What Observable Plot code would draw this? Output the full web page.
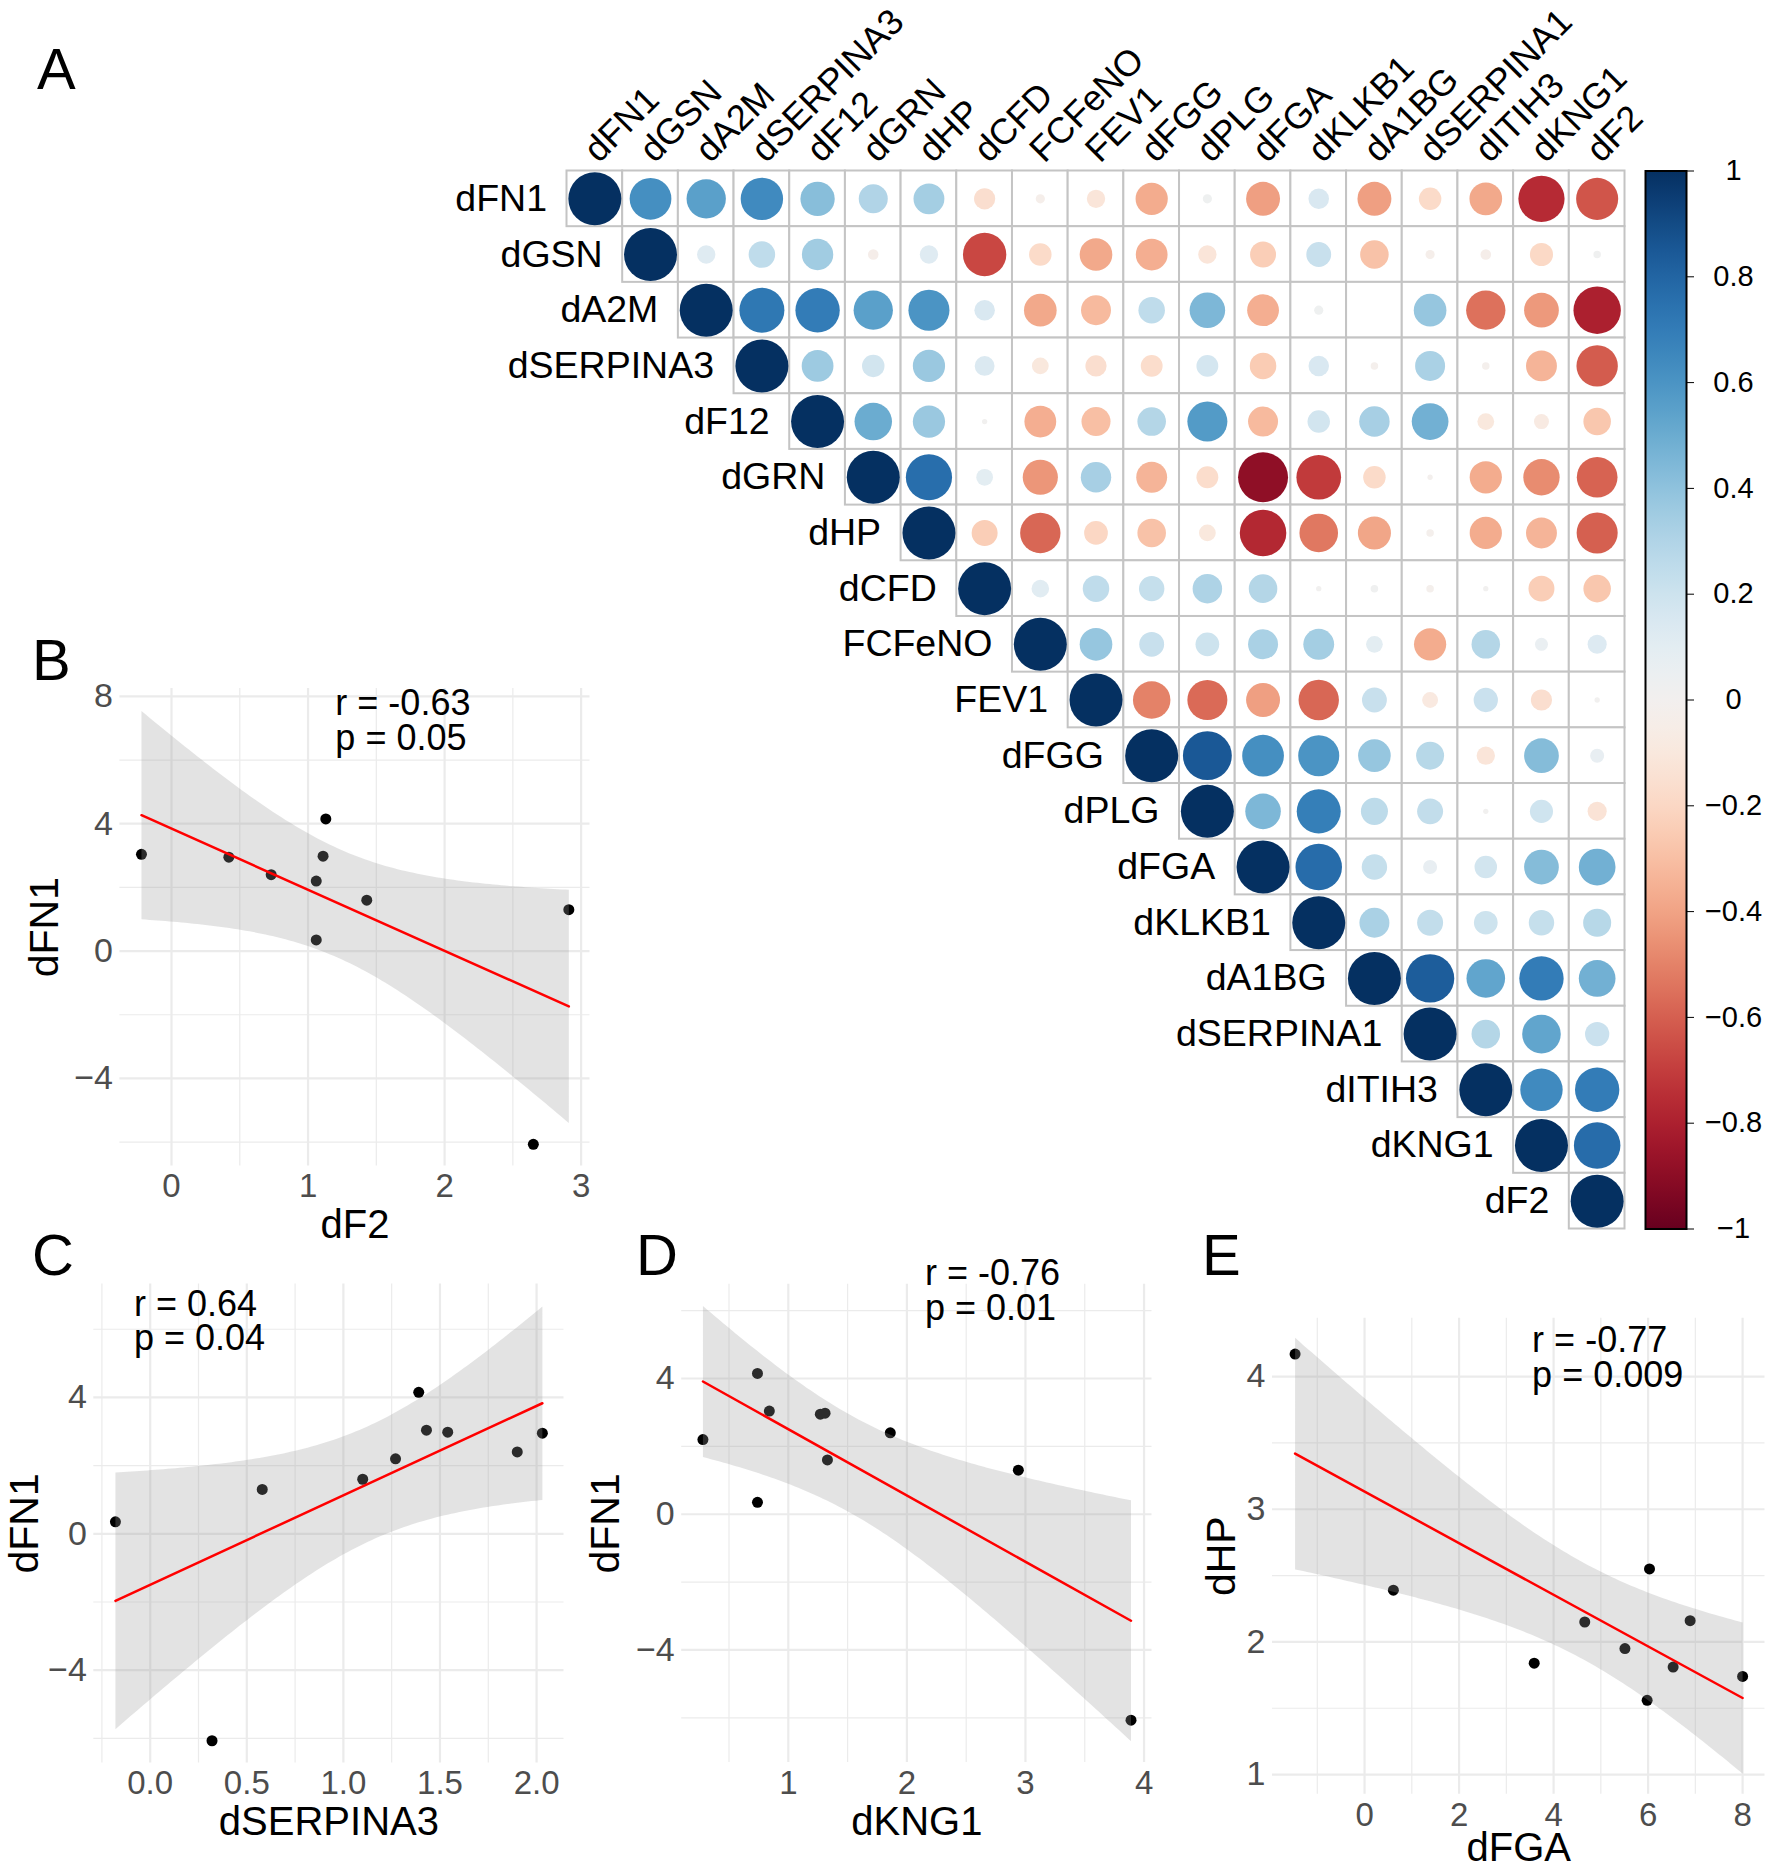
<!DOCTYPE html>
<html>
<head>
<meta charset="utf-8">
<script src="https://cdn.jsdelivr.net/npm/d3@7"></script>
<script src="https://cdn.jsdelivr.net/npm/@observablehq/plot@0.6"></script>
<style>
  body { margin: 0; background: #fff; }
  #page { position: relative; width: 1770px; height: 1870px; overflow: hidden; background: #fff;
          font-family: "Liberation Sans", Arial, Helvetica, sans-serif; }
  .letter { position: absolute; font-size: 58px; line-height: 1; color: #000; }
</style>
</head>
<body>
<div id="page"></div>
<script>
// ---------------- DATA ----------------
const vars = ["dFN1","dGSN","dA2M","dSERPINA3","dF12","dGRN","dHP","dCFD","FCFeNO","FEV1",
              "dFGG","dPLG","dFGA","dKLKB1","dA1BG","dSERPINA1","dITIH3","dKNG1","dF2"];

// upper-triangle correlations, each row lists the columns to the right of the diagonal
const r_dFN1      = [0.62, 0.55, 0.64, 0.42, 0.30, 0.34, -0.16, -0.03, -0.12, -0.37, 0.03, -0.41, 0.15, -0.41, -0.18, -0.38, -0.76, -0.63];
const r_dGSN      = [0.12, 0.25, 0.35, -0.04, 0.12, -0.67, -0.18, -0.38, -0.36, -0.12, -0.24, 0.22, -0.29, -0.03, -0.04, -0.19, 0.02];
const r_dA2M      = [0.72, 0.70, 0.55, 0.60, 0.15, -0.38, -0.32, 0.25, 0.45, -0.36, 0.03, 0.00, 0.38, -0.55, -0.43, -0.80];
const r_dSERPINA3 = [0.36, 0.18, 0.37, 0.14, -0.10, -0.16, -0.17, 0.17, -0.25, 0.15, -0.02, 0.32, -0.02, -0.34, -0.61];
const r_dF12      = [0.50, 0.37, 0.01, -0.36, -0.30, 0.29, 0.57, -0.32, 0.18, 0.33, 0.48, -0.10, -0.08, -0.27];
const r_dGRN      = [0.76, 0.10, -0.44, 0.33, -0.34, -0.17, -0.89, -0.71, -0.18, -0.01, -0.37, -0.47, -0.59];
const r_dHP       = [-0.24, -0.58, -0.20, -0.29, -0.10, -0.77, -0.53, -0.39, -0.02, -0.37, -0.34, -0.60];
const r_dCFD      = [0.11, 0.25, 0.23, 0.31, 0.29, 0.01, 0.02, -0.02, 0.01, -0.24, -0.27];
const r_FCFeNO    = [0.38, 0.22, 0.20, 0.32, 0.34, 0.10, -0.37, 0.29, 0.06, 0.13];
const r_FEV1      = [-0.50, -0.57, -0.41, -0.58, 0.22, -0.09, 0.21, -0.16, 0.01];
const r_dFGG      = [0.85, 0.62, 0.60, 0.38, 0.28, -0.12, 0.43, 0.07];
const r_dPLG      = [0.45, 0.69, 0.26, 0.24, 0.01, 0.19, -0.13];
const r_dFGA      = [0.77, 0.23, 0.07, 0.18, 0.43, 0.48];
const r_dKLKB1    = [0.32, 0.24, 0.20, 0.23, 0.28];
const r_dA1BG     = [0.83, 0.53, 0.70, 0.48];
const r_dSERPINA1 = [0.29, 0.53, 0.21];
const r_dITIH3    = [0.64, 0.70];
const r_dKNG1     = [0.77];

const colorbarTicks = [-1, -0.8, -0.6, -0.4, -0.2, 0, 0.2, 0.4, 0.6, 0.8, 1];

// scatter data (one entry per subject)
const dFN1      = [3.04, 2.95, 2.98, 4.15, 2.20, 0.35, 1.60, 1.30, 2.40, -6.07];
const dF2       = [-0.22, 0.42, 1.11, 1.13, 1.06, 1.06, 1.43, 2.91, 0.73, 2.65];
const dSERPINA3 = [1.43, 2.03, 1.54, 1.39, 1.27, -0.18, 1.10, 0.58, 1.90, 0.32];
const dKNG1     = [0.84, 1.27, 1.31, 0.74, 0.28, 0.74, 1.33, 2.94, 1.86, 3.89];
const dFGA      = [-1.47, 0.61, 3.59, 4.66, 5.51, 6.03, 5.98, 6.53, 6.89, 8.00];
const dHP       = [4.17, 2.39, 1.84, 2.15, 1.95, 2.55, 1.56, 1.81, 2.16, 1.74];

const statsB = "r = -0.63\np = 0.05";
const statsC = "r = 0.64\np = 0.04";
const statsD = "r = -0.76\np = 0.01";
const statsE = "r = -0.77\np = 0.009";

const ticksB = {xMajor: [0, 1, 2, 3], xMinor: [0.5, 1.5, 2.5], yMajor: [-4, 0, 4, 8], yMinor: [-6, -2, 2, 6]};
const ticksC = {xMajor: [0, 0.5, 1, 1.5, 2], xMinor: [-0.25, 0.25, 0.75, 1.25, 1.75], yMajor: [-4, 0, 4], yMinor: [-6, -2, 2, 6]};
const ticksD = {xMajor: [1, 2, 3, 4], xMinor: [0.5, 1.5, 2.5, 3.5], yMajor: [-4, 0, 4], yMinor: [-6, -2, 2, 6]};
const ticksE = {xMajor: [0, 2, 4, 6, 8], xMinor: [-1, 1, 3, 5, 7], yMajor: [1, 2, 3, 4], yMinor: [1.5, 2.5, 3.5]};

// ---------------- RENDER ----------------
const FONT = "'Liberation Sans', Arial, Helvetica, sans-serif";
const page = document.getElementById("page");
function place(el, left, top) {
  el.style.position = "absolute";
  el.style.left = left + "px";
  el.style.top = top + "px";
  page.appendChild(el);
}
function letter(t, left, top) {
  const d = document.createElement("div");
  d.className = "letter";
  d.textContent = t;
  d.style.left = left + "px";
  d.style.top = top + "px";
  page.appendChild(d);
}

// ---- Panel A: correlation matrix ----
const corrUpper = [r_dFN1, r_dGSN, r_dA2M, r_dSERPINA3, r_dF12, r_dGRN, r_dHP, r_dCFD, r_FCFeNO,
                   r_FEV1, r_dFGG, r_dPLG, r_dFGA, r_dKLKB1, r_dA1BG, r_dSERPINA1, r_dITIH3, r_dKNG1];
const cells = [];
vars.forEach((v, i) => {
  cells.push({row: v, col: v, r: 1});
  (corrUpper[i] || []).forEach((r, k) => cells.push({row: v, col: vars[i + 1 + k], r}));
});

const mA = {x0: 566.5, y0: 170.5, x1: 1624.5, y1: 1228.5};
const boxA = {x0: 380, y0: 0, x1: 1640, y1: 1240};
const CELL = (mA.x1 - mA.x0) / vars.length;

const matrix = Plot.plot({
  width: boxA.x1 - boxA.x0, height: boxA.y1 - boxA.y0,
  marginLeft: mA.x0 - boxA.x0, marginRight: boxA.x1 - mA.x1,
  marginTop: mA.y0 - boxA.y0, marginBottom: boxA.y1 - mA.y1,
  style: {background: "transparent", fontFamily: FONT, overflow: "visible"},
  x: {type: "band", domain: vars, padding: 0, round: false, axis: null},
  y: {type: "band", domain: vars, padding: 0, round: false, axis: null},
  r: {type: "sqrt", domain: [0, 1], range: [0, 26.5]},
  color: {type: "linear", domain: [-1, 1], scheme: "rdbu"},
  marks: [
    Plot.cell(cells, {x: "col", y: "row", fill: "white", stroke: "#c4c4c4", strokeWidth: 2, inset: 0}),
    Plot.dot(cells, {x: "col", y: "row", r: d => Math.abs(d.r), fill: "r"}),
    Plot.text(vars, {x: d => d, y: d => d, text: d => d, textAnchor: "end",
                     dx: -(CELL / 2 + 20), fontSize: 37.5, fill: "black"}),
    Plot.text(vars, {x: d => d, frameAnchor: "top", text: d => d, rotate: -45, textAnchor: "start",
                     lineAnchor: "bottom", dx: 4, dy: -7, fontSize: 36, fill: "black"})
  ]
});
place(matrix, boxA.x0, boxA.y0);

// ---- colour bar ----
const boxCB = {x0: 1636, y0: 150, x1: 1770, y1: 1250};
const barA = {x0: 1645, y0: mA.y0, x1: 1686, y1: mA.y1};
const colorbar = Plot.plot({
  width: boxCB.x1 - boxCB.x0, height: boxCB.y1 - boxCB.y0,
  marginLeft: barA.x0 - boxCB.x0, marginRight: boxCB.x1 - barA.x1,
  marginTop: barA.y0 - boxCB.y0, marginBottom: boxCB.y1 - barA.y1,
  style: {background: "transparent", fontFamily: FONT, overflow: "visible"},
  x: {domain: [0, 1], axis: null},
  y: {domain: [-1, 1], axis: null},
  marks: [
    () => {
      const defs = d3.create("svg:defs");
      const g = defs.append("linearGradient").attr("id", "cbgrad")
        .attr("x1", 0).attr("y1", 0).attr("x2", 0).attr("y2", 1);
      for (let k = 0; k <= 40; k++) {
        g.append("stop").attr("offset", k / 40).attr("stop-color", d3.interpolateRdBu(1 - k / 40));
      }
      return defs.node();
    },
    Plot.frame({fill: "url(#cbgrad)", stroke: "black", strokeWidth: 2}),
    Plot.axisY(colorbarTicks, {anchor: "right", tickSize: 7, tickPadding: 40, textAnchor: "middle",
                               fontSize: 29, label: null, tickFormat: d3.format("~g")})
  ]
});
place(colorbar, boxCB.x0, boxCB.y0);

// ---- scatter panels ----
function scatter(cfg) {
  const {xs, ys, box, area, xDomain, yDomain, ticks, xFmt, yFmt, xTitle, yTitle, xTitleDy, yTitleDx, stats, statsAt} = cfg;
  const data = xs.map((x, i) => ({x, y: ys[i]}));
  const grid = "#ebebeb";
  const p = Plot.plot({
    width: box[2] - box[0], height: box[3] - box[1],
    marginLeft: area[0] - box[0], marginRight: box[2] - area[2],
    marginTop: area[1] - box[1], marginBottom: box[3] - area[3],
    style: {background: "transparent", fontFamily: FONT, overflow: "visible"},
    x: {domain: xDomain, axis: null},
    y: {domain: yDomain, axis: null},
    marks: [
      Plot.gridX(ticks.xMinor, {stroke: grid, strokeOpacity: 1, strokeWidth: 1.2}),
      Plot.gridY(ticks.yMinor, {stroke: grid, strokeOpacity: 1, strokeWidth: 1.2}),
      Plot.gridX(ticks.xMajor, {stroke: grid, strokeOpacity: 1, strokeWidth: 2.2}),
      Plot.gridY(ticks.yMajor, {stroke: grid, strokeOpacity: 1, strokeWidth: 2.2}),
      Plot.dot(data, {x: "x", y: "y", r: 5.5, fill: "black"}),
      Plot.linearRegressionY(data, {x: "x", y: "y", stroke: "#ff0000", strokeWidth: 2.5,
                                    fill: "#999999", fillOpacity: 0.28}),
      Plot.axisX(ticks.xMajor, {tickSize: 0, tickPadding: 8, fontSize: 33, fill: "#4d4d4d",
                                tickFormat: xFmt, label: null}),
      Plot.axisY(ticks.yMajor, {tickSize: 0, tickPadding: 7, fontSize: 34, fill: "#4d4d4d",
                                tickFormat: yFmt, label: null}),
      Plot.text([xTitle], {text: d => d, frameAnchor: "bottom", lineAnchor: "middle", textAnchor: "middle",
                           dy: xTitleDy, fontSize: 40, fill: "black"}),
      Plot.text([yTitle], {text: d => d, frameAnchor: "left", lineAnchor: "middle", textAnchor: "middle",
                           rotate: -90, dx: yTitleDx, fontSize: 41, fill: "black"}),
      Plot.text([stats], {text: d => d, x: [statsAt[0]], y: [statsAt[1]], textAnchor: "start",
                          lineAnchor: "top", lineHeight: 0.97, fontSize: 36, fill: "black"})
    ]
  });
  place(p, box[0], box[1]);
}

scatter({xs: dF2, ys: dFN1, box: [0, 640, 600, 1250], area: [119.4, 687.9, 589.5, 1165.5],
  xDomain: [-0.378, 3.065], yDomain: [-6.75, 8.25], ticks: ticksB,
  xFmt: d3.format("~g"), yFmt: d3.format("~g"), xTitle: "dF2", yTitle: "dFN1",
  xTitleDy: 59, yTitleDx: -75.4, stats: statsB, statsAt: [1.20, 8.18]});

scatter({xs: dSERPINA3, ys: dFN1, box: [0, 1240, 580, 1870], area: [93.3, 1283.4, 563.5, 1762.4],
  xDomain: [-0.292, 2.142], yDomain: [-6.72, 7.33], ticks: ticksC,
  xFmt: d3.format(".1f"), yFmt: d3.format("~g"), xTitle: "dSERPINA3", yTitle: "dFN1",
  xTitleDy: 59.5, yTitleDx: -68.8, stats: statsC, statsAt: [-0.084, 7.13]});

scatter({xs: dKNG1, ys: dFN1, box: [590, 1240, 1180, 1870], area: [681.2, 1283.7, 1151.5, 1762.1],
  xDomain: [0.101, 4.067], yDomain: [-7.32, 6.78], ticks: ticksD,
  xFmt: d3.format("~g"), yFmt: d3.format("~g"), xTitle: "dKNG1", yTitle: "dFN1",
  xTitleDy: 60, yTitleDx: -75.4, stats: statsD, statsAt: [2.152, 7.49]});

scatter({xs: dFGA, ys: dHP, box: [1180, 1240, 1770, 1870], area: [1272, 1317.7, 1764.5, 1793.7],
  xDomain: [-1.948, 8.474], yDomain: [0.852, 4.44], ticks: ticksE,
  xFmt: d3.format("~g"), yFmt: d3.format("~g"), xTitle: "dFGA", yTitle: "dHP",
  xTitleDy: 54, yTitleDx: -51, stats: statsE, statsAt: [3.546, 4.37]});

// panel letters
letter("A", 37, 40);
letter("B", 32, 631);
letter("C", 32, 1226);
letter("D", 636, 1226);
letter("E", 1202, 1226);
</script>
</body>
</html>
